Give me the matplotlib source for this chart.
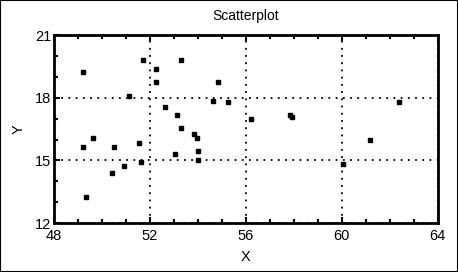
import matplotlib
matplotlib.use('Agg')
import matplotlib.pyplot as plt
from matplotlib.ticker import MultipleLocator
from matplotlib.patches import Rectangle

plt.rcParams['font.family'] = ['Liberation Sans', 'DejaVu Sans']

# data
x = [49.19, 51.72, 52.25, 52.25, 51.14, 52.64, 53.11, 53.31, 54.85, 54.62,
     55.25, 56.22, 57.84, 57.94, 62.37, 53.28, 49.63, 49.19, 50.50, 51.53,
     53.03, 51.61, 50.93, 50.42, 49.32, 53.82, 53.95, 54.02, 54.02, 61.16,
     60.03]
y = [19.21, 19.81, 19.40, 18.74, 18.06, 17.56, 17.17, 19.81, 18.74, 17.84,
     17.78, 17.00, 17.17, 17.06, 17.78, 16.55, 16.09, 15.66, 15.62, 15.81,
     15.29, 14.92, 14.71, 14.40, 13.25, 16.28, 16.09, 15.47, 15.00, 16.00,
     14.82]
xticks = [48, 52, 56, 60, 64]
yticks = [12, 15, 18, 21]

fig = plt.figure(figsize=(4.58, 2.72), dpi=100)
fig.patch.set_facecolor('white')
fig.patches.append(Rectangle((0, 0), 1, 1, transform=fig.transFigure,
                             fill=False, edgecolor='black', lw=1.5))
ax = fig.add_axes([0.118, 0.180, 0.838, 0.691])

ax.plot(x, y, 's', color='black', ms=3, zorder=3)

ax.set_xlim(48, 64)
ax.set_ylim(12, 21)
ax.set_xticks(xticks)
ax.set_yticks(yticks)
ax.xaxis.set_minor_locator(MultipleLocator(1))
ax.yaxis.set_minor_locator(MultipleLocator(1))
ax.tick_params(which='both', direction='in', top=True, right=False,
               width=1.5, labelsize=10.5, pad=2)
ax.tick_params(axis='x', which='both', pad=4)
ax.tick_params(which='major', length=4)
ax.tick_params(which='minor', length=3)
for s in ax.spines.values():
    s.set_linewidth(2)

ax.grid(True, which='major', color='black', linestyle=(0, (1, 3)), lw=1.3)

ax.set_title('Scatterplot', fontsize=10, pad=11)
ax.set_xlabel('X', fontsize=10.5, labelpad=5)
ax.set_ylabel('Y', fontsize=10.5, labelpad=7)

fig.savefig('out.png', dpi=100)
